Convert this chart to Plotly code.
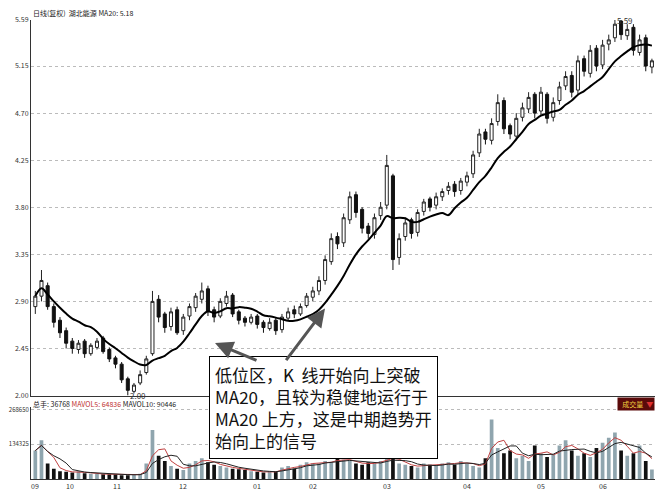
import plotly.graph_objects as go
from plotly.subplots import make_subplots
import pandas as pd

opens = [2.85,2.95,3.05,2.85,2.72,2.62,
 2.52,2.44,2.52,2.40,2.46,2.55,2.44,2.36,
 2.30,2.16,2.04,2.12,2.22,2.40,2.92,2.78,2.66,2.82,2.62,
 2.76,2.84,2.92,3.02,2.82,2.76,2.88,2.96,2.80,2.74,2.70,2.76,
 2.70,2.64,2.72,2.63,2.74,2.82,2.78,2.86,2.94,
 3.00,3.10,3.28,3.52,3.46,3.68,3.92,3.78,3.62,3.54,3.72,3.82,
 4.10,3.32,3.52,3.68,3.56,3.76,3.88,3.82,3.90,3.96,4.02,3.96,4.04,
 4.12,4.32,4.52,4.44,4.62,4.82,4.58,4.48,4.66,4.74,4.88,4.72,
 4.88,4.66,4.82,4.96,5.06,4.92,5.22,5.08,5.32,5.16,
 5.36,5.42,5.58,5.44,5.52,5.28,5.42,5.14]
closes = [2.95,3.10,2.85,2.70,2.60,2.50,
 2.45,2.50,2.40,2.48,2.52,2.42,2.35,2.30,
 2.15,2.05,2.10,2.20,2.35,2.90,2.75,2.65,2.80,2.60,2.75,
 2.85,2.95,3.00,2.80,2.75,2.90,2.95,2.78,2.72,2.70,2.75,2.68,
 2.65,2.70,2.62,2.75,2.80,2.78,2.85,2.95,3.00,
 3.10,3.30,3.50,3.45,3.70,3.90,3.75,3.60,3.55,3.70,3.80,4.20,
 3.30,3.50,3.65,3.55,3.75,3.85,3.80,3.90,3.95,4.00,3.95,4.05,4.10,
 4.30,4.50,4.45,4.60,4.80,4.55,4.50,4.65,4.75,4.85,4.70,4.90,
 4.65,4.80,4.95,5.05,4.90,5.20,5.10,5.30,5.15,5.35,
 5.40,5.55,5.45,5.50,5.30,5.40,5.15,5.20]
highs = [3.00,3.20,3.08,2.88,2.75,2.65,
 2.55,2.53,2.54,2.50,2.55,2.57,2.46,2.38,
 2.32,2.18,2.12,2.24,2.38,3.00,2.96,2.80,2.84,2.85,2.78,
 2.88,2.98,3.08,3.05,2.85,2.93,3.00,2.98,2.82,2.76,2.78,2.78,
 2.72,2.74,2.75,2.78,2.84,2.86,2.88,2.98,3.04,
 3.14,3.34,3.55,3.56,3.74,3.95,3.95,3.80,3.65,3.74,3.85,4.30,
 4.12,3.55,3.70,3.70,3.78,3.88,3.90,3.94,3.98,4.04,4.05,4.08,4.14,
 4.34,4.55,4.55,4.65,4.88,4.85,4.60,4.70,4.80,4.90,4.90,4.95,
 4.90,4.85,5.00,5.10,5.10,5.25,5.25,5.35,5.35,5.40,
 5.45,5.59,5.60,5.55,5.55,5.45,5.45,5.22]
lows = [2.78,2.90,2.82,2.65,2.55,2.45,
 2.40,2.40,2.36,2.38,2.44,2.40,2.32,2.26,
 2.12,2.00,2.02,2.10,2.20,2.38,2.70,2.60,2.62,2.58,2.58,
 2.72,2.80,2.88,2.76,2.70,2.74,2.85,2.75,2.68,2.66,2.68,2.64,
 2.60,2.62,2.58,2.60,2.72,2.74,2.76,2.84,2.90,
 2.96,3.06,3.25,3.40,3.42,3.64,3.70,3.55,3.50,3.50,3.68,3.78,
 3.20,3.25,3.48,3.50,3.52,3.72,3.76,3.78,3.86,3.92,3.90,3.92,4.00,
 4.08,4.28,4.40,4.40,4.58,4.50,4.45,4.45,4.62,4.70,4.65,4.68,
 4.60,4.62,4.78,4.92,4.85,4.88,5.05,5.04,5.10,5.12,
 5.30,5.38,5.40,5.40,5.25,5.25,5.10,5.08]
volumes = [110000,150000,60000,40000,30000,28000,
 25000,30000,22000,20000,20000,18000,18000,18000,
 15000,15000,16000,20000,60000,190000,90000,70000,50000,40000,35000,
 60000,70000,80000,65000,55000,50000,45000,40000,38000,35000,30000,28000,
 25000,30000,28000,45000,50000,40000,55000,65000,60000,
 60000,70000,65000,80000,75000,70000,60000,55000,65000,60000,70000,90000,
 80000,60000,55000,50000,45000,60000,55000,50000,60000,65000,55000,70000,60000,
 50000,45000,80000,230000,120000,100000,110000,80000,90000,70000,130000,100000,
 85000,95000,130000,150000,110000,90000,100000,85000,120000,140000,
 160000,180000,110000,90000,100000,130000,70000,36768]
month_labels = ["09","10","11","12","01","02","03","04","05","06"]
month_pos = [0,5.6,13.3,24,36,45,57,70,82,92]
price_ticks = [2.00,2.45,2.90,3.35,3.80,4.25,4.70,5.15,5.59]

x = list(range(len(closes)))
# each candle here spans about two sessions, so a 10-candle window stands in for MA20
ma20 = pd.Series(closes).rolling(10, min_periods=1).mean()
v = pd.Series(volumes)
mav5 = v.rolling(3, min_periods=1).mean()
mav10 = v.rolling(5, min_periods=1).mean()
vcol = ["#8fa5ae" if c >= o else "#111111" for o, c in zip(opens, closes)]

fig = make_subplots(rows=2, cols=1, shared_xaxes=True, row_heights=[0.84, 0.16], vertical_spacing=0.026)
fig.add_trace(go.Candlestick(x=x, open=opens, high=highs, low=lows, close=closes,
    increasing=dict(line=dict(color="#222", width=1), fillcolor="white"),
    decreasing=dict(line=dict(color="#111", width=1), fillcolor="#111"),
    whiskerwidth=0, showlegend=False, hoverinfo="skip"), row=1, col=1)
fig.add_trace(go.Scatter(x=x, y=ma20, mode="lines", line=dict(color="black", width=2, shape="spline"),
    showlegend=False), row=1, col=1)
fig.add_trace(go.Bar(x=x, y=volumes, marker_color=vcol, marker_line_width=0, width=0.6,
    showlegend=False), row=2, col=1)
fig.add_trace(go.Scatter(x=x, y=mav5, mode="lines", line=dict(color="#c04040", width=1), showlegend=False), row=2, col=1)
fig.add_trace(go.Scatter(x=x, y=mav10, mode="lines", line=dict(color="#222", width=1), showlegend=False), row=2, col=1)

fig.update_layout(width=665, height=493, margin=dict(l=23, r=18, t=12, b=22, autoexpand=False),
    paper_bgcolor="white", plot_bgcolor="white", bargap=0.2,
    font=dict(family="Noto Sans CJK SC", size=8, color="#333"),
    xaxis=dict(rangeslider=dict(visible=False)))
fig.update_xaxes(range=[-0.7, 100.5], showgrid=False, showline=True, linecolor="#333",
    showticklabels=False, ticks="", automargin=False)
fig.update_yaxes(range=[2.0, 5.59], tickvals=price_ticks, ticktext=[f"{t:.2f}" for t in price_ticks],
    showgrid=True, gridcolor="#bbb", griddash="dot", showline=True, linecolor="#333",
    tickfont=dict(size=7), automargin=False, row=1, col=1)
fig.update_yaxes(range=[0, 277000], tickvals=[134325, 268650], ticktext=["134325", "268650"],
    showgrid=True, gridcolor="#bbb", griddash="dot", showline=True, linecolor="#333",
    tickfont=dict(size=6), automargin=False, row=2, col=1)
for mp, ml in zip(month_pos, month_labels):
    fig.add_annotation(x=mp, xref="x2", y=0, yref="paper", yanchor="top", text=ml,
        showarrow=False, font=dict(size=7, color="#333"))

fig.add_annotation(xref="paper", yref="paper", x=0.0, y=1.0, xanchor="left", yanchor="bottom",
    text="日线(复权)  湖北能源 MA20: 5.18", showarrow=False, font=dict(size=7, color="#222"))
fig.add_annotation(xref="paper", yref="paper", x=0.0, y=0.148, xanchor="left", yanchor="bottom",
    text="总手: 36768 <span style='color:#c03030'>MAVOL5: 64836</span> MAVOL10: 90446",
    showarrow=False, font=dict(size=7, color="#222"))
fig.add_annotation(xref="paper", yref="paper", x=1.0, y=0.148, xanchor="right", yanchor="bottom",
    text="  成交量  <span style='color:#e03030'>▼</span>", showarrow=False, bgcolor="#5a0a0a",
    font=dict(size=7, color="#f0d040"))
fig.add_annotation(x=94, y=5.59, xref="x", yref="y", text="5.59", showarrow=False,
    xanchor="left", yanchor="middle", font=dict(size=8))
fig.add_annotation(x=15, y=2.0, xref="x", yref="y", text="2.00", showarrow=False,
    xanchor="left", yanchor="middle", font=dict(size=8))
fig.add_annotation(xref="paper", yref="paper", x=0.285, y=0.268, xanchor="left", yanchor="top",
    align="left", showarrow=False, bgcolor="white", bordercolor="black", borderwidth=1, borderpad=5,
    text="低位区，K  线开始向上突破<br>MA20，且较为稳健地运行于<br>MA20 上方，这是中期趋势开<br>始向上的信号",
    font=dict(family="Noto Sans CJK SC", size=17, color="#111"))
for ax_, ay_, x_, y_ in [(258, 358, 215, 340), (285, 358, 325, 305)]:
    fig.add_annotation(xref="paper", yref="paper",
        x=(x_ - 31) / 624, y=(478 - y_) / 466, ax=ax_ - x_, ay=ay_ - y_,
        text="", showarrow=True, arrowhead=2, arrowsize=1.2,
        arrowwidth=3, arrowcolor="#555")
fig.write_html("out.html")
